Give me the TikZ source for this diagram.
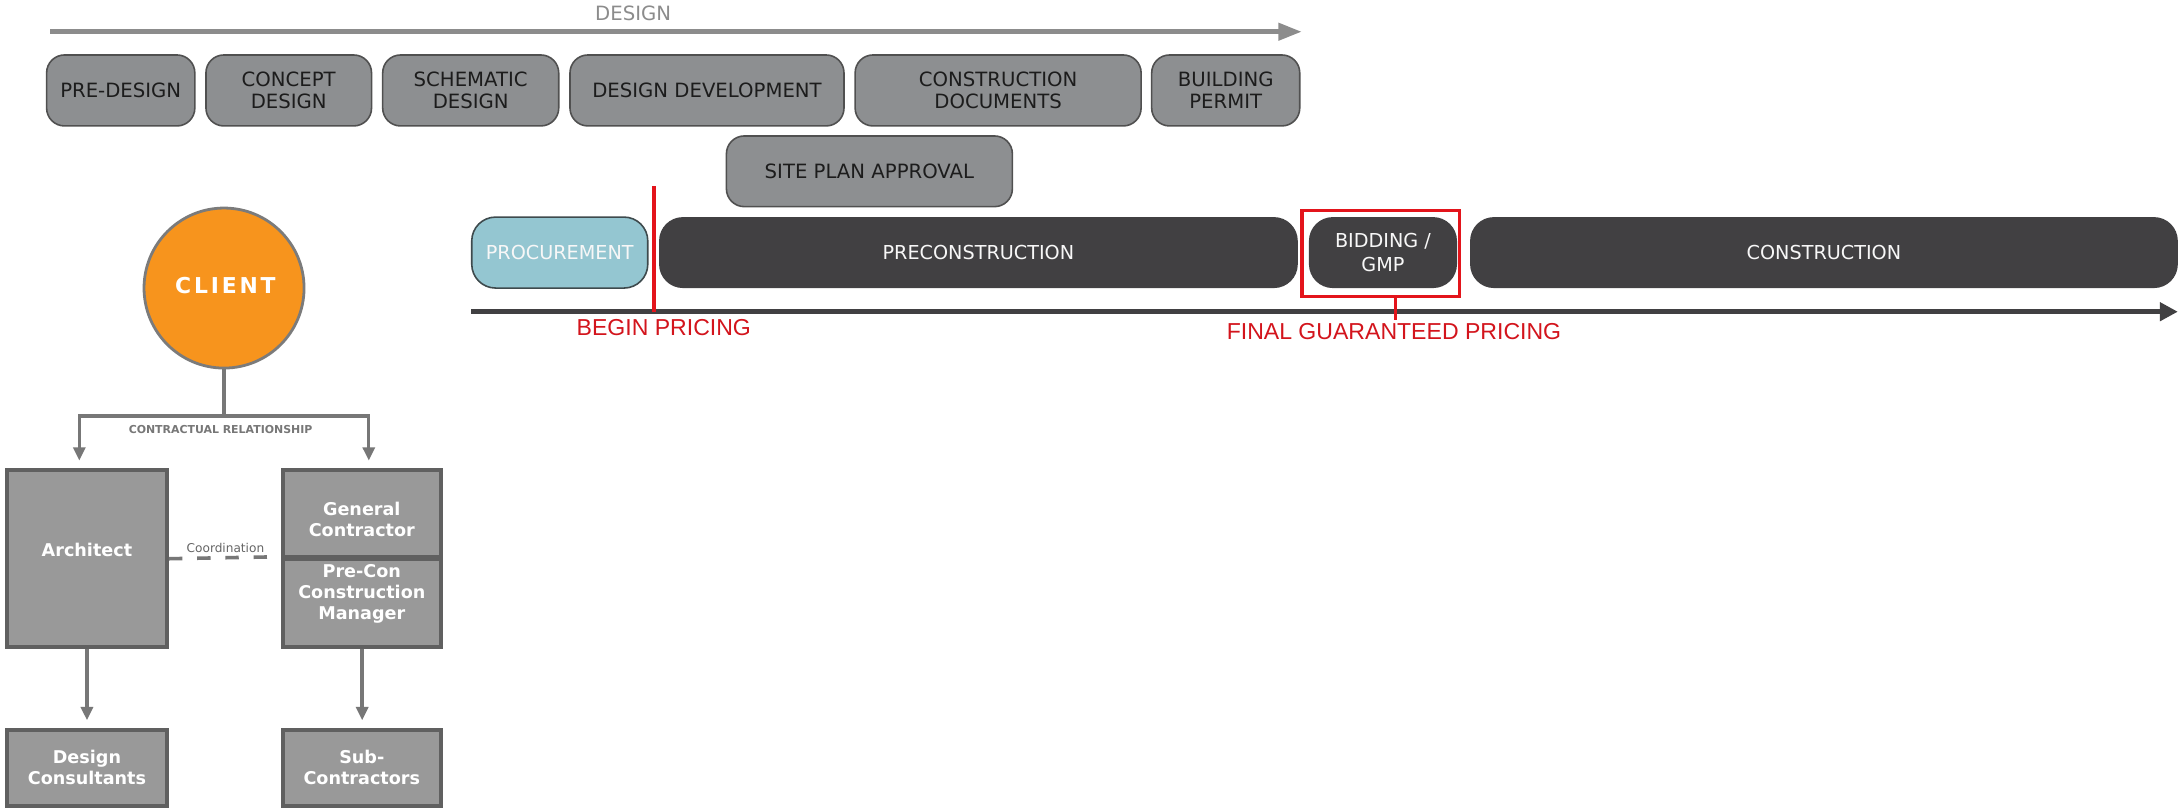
\documentclass[tikz,border=0pt]{standalone}
\usepackage{fontspec}
\setmainfont{DejaVu Sans}
\newfontfamily\redfont{Liberation Sans}
\newfontfamily\clientfont[LetterSpace=13]{DejaVu Sans}
\usetikzlibrary{arrows.meta}
\definecolor{boxgray}{HTML}{8D8F91}
\definecolor{phaseline}{HTML}{505050}
\definecolor{phasetext}{HTML}{1C1C1C}
\definecolor{designc}{HTML}{8C8C8C}
\definecolor{darkc}{HTML}{414042}
\definecolor{procc}{HTML}{94C6D1}
\definecolor{procline}{HTML}{3E4A4D}
\definecolor{redc}{HTML}{E3141B}
\definecolor{redtext}{HTML}{D3141C}
\definecolor{orangec}{HTML}{F7941D}
\definecolor{circline}{HTML}{7B7B7B}
\definecolor{orgfill}{HTML}{999999}
\definecolor{orgline}{HTML}{606060}
\definecolor{connc}{HTML}{777777}
\newcommand\mkbox[7]{%
  \pgfmathsetmacro\mkw{(#4-#2)*0.7}%
  \pgfmathsetmacro\mkh{(#5-#3)*0.7}%
  \pgfmathsetmacro\mkx{(#2+#4)/2}%
  \pgfmathsetmacro\mky{(#3+#5)/2}%
  \node[#6, minimum width=\mkw pt, minimum height=\mkh pt] (#1) at (\mkx,\mky) {#7};}
\tikzset{
  phase/.style={draw=phaseline, fill=boxgray, rounded corners=9pt, line width=0.8pt,
    inner sep=0pt, align=center, text=phasetext, font=\fontsize{9.9}{11.2}\selectfont},
  darkbox/.style={fill=darkc, rounded corners=12pt, inner sep=0pt, align=center,
    text=white!94!gray, font=\fontsize{9.66}{11.8}\selectfont},
  procbox/.style={darkbox, fill=procc, draw=procline, line width=0.8pt},
  redbox/.style={draw=redc, line width=1.7pt, inner sep=0pt},
  orgbox/.style={draw=orgline, fill=orgfill, line width=2pt, inner sep=0pt},
  orgtext/.style={text=white, inner sep=0pt, align=center,
    font=\fontsize{8.85}{10.5}\selectfont\bfseries},
  conn/.style={draw=connc, line width=1.7pt},
  connarrow/.style={conn, -{Triangle[width=6pt,length=6.7pt]}},
  redlabel/.style={text=redtext, inner sep=0pt, font=\redfont\fontsize{11.6}{13}\selectfont},
}
\begin{document}
\begin{tikzpicture}[x=0.7pt,y=-0.7pt]
\useasboundingbox (0,0) rectangle (1568,580);
\fill[white] (0,0) rectangle (1568,580);

% ---------- design timeline ----------
\coordinate (ds) at (36,22.8);
\coordinate (de) at (935.5,22.8);
\draw[draw=designc, line width=2.5pt, -{Triangle[width=8.4pt,length=11.8pt]}] (ds) -- (de);
\node[text=designc, inner sep=0pt, font=\fontsize{9.9}{11}\selectfont] (designlbl) at (455,9.6) {DESIGN};

\mkbox{pre}{33.5}{39.5}{140}{90.5}{phase}{PRE-DESIGN}
\mkbox{concept}{148}{39.5}{267}{90.5}{phase}{CONCEPT\\DESIGN}
\mkbox{schem}{275}{39.5}{401.5}{90.5}{phase}{SCHEMATIC\\DESIGN}
\mkbox{dd}{409.6}{39.5}{606.5}{90.5}{phase}{DESIGN DEVELOPMENT}
\mkbox{cd}{614.5}{39.5}{820}{90.5}{phase}{CONSTRUCTION\\DOCUMENTS}
\mkbox{bp}{827.6}{39.5}{934}{90.5}{phase}{BUILDING\\PERMIT}
\mkbox{site}{522}{97.7}{727.5}{148.5}{phase}{SITE PLAN APPROVAL}

% ---------- project timeline ----------
\mkbox{proc}{339}{156}{465.5}{207}{procbox}{PROCUREMENT}
\mkbox{precon}{473.6}{156}{932.6}{207}{darkbox}{PRECONSTRUCTION}
\mkbox{bid}{940.6}{156}{1047}{207}{darkbox}{BIDDING /\\GMP}
\mkbox{constr}{1056.4}{156}{1565}{207}{darkbox}{CONSTRUCTION}
\mkbox{gmpbox}{935.5}{151.4}{1048.6}{213}{redbox}{}

\coordinate (ms) at (338.5,224);
\coordinate (me) at (1565,224);
\draw[draw=darkc, line width=2.4pt, -{Triangle[width=9pt,length=9pt]}] (ms) -- (me);

\coordinate (bpt) at (470,134);
\coordinate (bpb) at (470,224);
\draw[draw=redc, line width=1.7pt] (bpt) -- (bpb);
\coordinate (gst) at (1003,230);
\draw[draw=redc, line width=1.7pt] (gmpbox.south -| gst) -- (gst);

\node[redlabel] (beginlbl) at (477,235.6) {BEGIN PRICING};
\node[redlabel] (finallbl) at (1001.7,238.4) {FINAL GUARANTEED PRICING};

% ---------- organisation chart ----------
\node[circle, fill=orangec, draw=circline, line width=1.4pt, minimum size=80.5pt, inner sep=0pt] (client) at (161,207) {};
\node[text=white, inner sep=0pt, font=\clientfont\fontsize{11}{12}\selectfont\bfseries] (clientlbl) at (162,205) {CLIENT};

\mkbox{arch}{5}{338}{120}{465}{orgbox}{}
\mkbox{gc}{203.5}{338}{317}{400.5}{orgbox}{}
\mkbox{pcm}{203.5}{401.5}{317}{465}{orgbox}{}
\mkbox{dc}{5}{524.6}{120}{579}{orgbox}{}
\mkbox{sub}{203.5}{524.6}{317}{579}{orgbox}{}

\node[orgtext] (archlbl) at (62.5,395) {Architect};
\node[orgtext] (gclbl) at (260,373) {General\\Contractor};
\node[orgtext] (pcmlbl) at (260,427) {Pre-Con\\Construction\\Manager};
\node[orgtext] (dclbl) at (62.5,551.5) {Design\\Consultants};
\node[orgtext] (sublbl) at (260,551.5) {Sub-\\Contractors};

\coordinate (jn) at (161,299);
\coordinate (aL) at (57,331);
\coordinate (aR) at (265,331);
\draw[conn] (client.south) -- (jn);
\draw[connarrow] (jn) -| (aL);
\draw[connarrow] (jn) -| (aR);
\node[text=connc, inner sep=0pt, font=\fontsize{5.5}{6}\selectfont\bfseries] (contract) at (158.5,309) {CONTRACTUAL RELATIONSHIP};

\draw[draw=connc, line width=1.8pt, dash pattern=on 6.7pt off 7.5pt, shorten >=5.6pt] (arch.east) -- (pcm.north west);
\node[text=connc!85!black, inner sep=0pt, font=\fontsize{6.1}{7}\selectfont] (coord) at (162,394) {Coordination};

\draw[connarrow, shorten >=3.9pt] (arch.south) -- (dc.north);
\draw[connarrow, shorten >=3.9pt] (pcm.south) -- (sub.north);
\end{tikzpicture}
\end{document}
